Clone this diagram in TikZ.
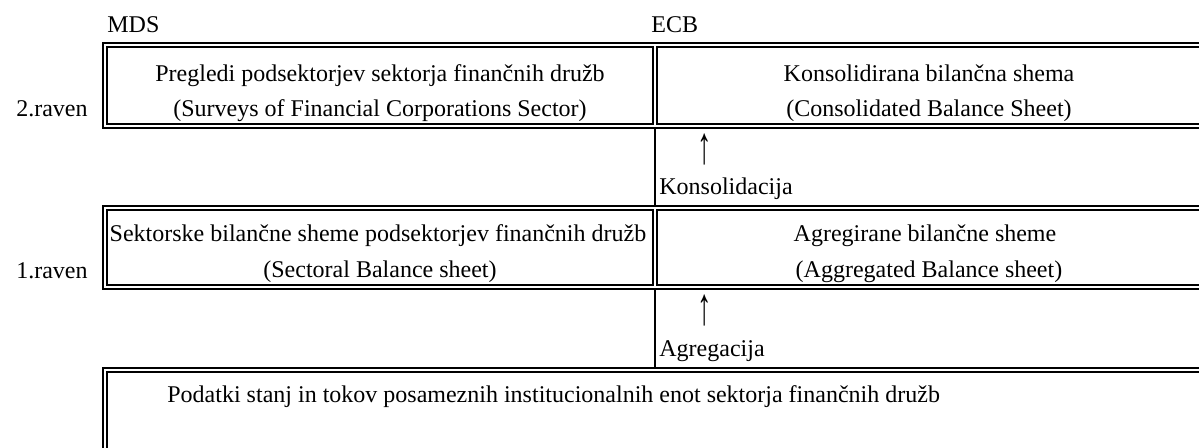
\documentclass[tikz,border=0pt]{standalone}
\usepackage{graphicx}
\usepackage{fontspec}
\setmainfont{Liberation Serif}
\usetikzlibrary{positioning}
\tikzset{frame/.style={line width=0.9pt},
  rule/.style={line width=0.8pt},
  txt/.style={inner sep=0pt, anchor=base, font=\fontsize{12}{14}\selectfont}}
\newcommand{\uparr}{\scalebox{1.2}[2.2]{↑}}

\begin{document}
\begin{tikzpicture}[x=0.5pt,y=-0.5pt]
      \clip (0,0) rectangle (1199,448);
      \draw[frame] (103,43) rectangle (1230,128);
      \draw[frame] (107,47) rectangle (653,124);
      \draw[frame] (657,47) rectangle (1226,124);
      \draw[frame] (103,206) rectangle (1230,289);
      \draw[frame] (107,210) rectangle (653,285);
      \draw[frame] (657,210) rectangle (1226,285);
      \draw[frame] (103,368) rectangle (1230,470);
      \draw[frame] (107,372) rectangle (1226,466);
      \coordinate (top1) at (655,128);
      \coordinate (bot1) at (655,206);
      \coordinate (top2) at (655,289);
      \coordinate (bot2) at (655,368);
      \draw[rule] (top1) -- (bot1);
      \draw[rule] (top2) -- (bot2);
      \node[txt, anchor=base west] (mds) at (107,33) {MDS};
      \node[txt, anchor=base west] (ecb) at (651,33) {ECB};
      \node[txt, anchor=base east] (lvl2) at (88,117) {2.raven};
      \node[txt, anchor=base east] (lvl1) at (88,279) {1.raven};
      \node[txt] (pregl) at (380,82) {Pregledi podsektorjev sektorja finančnih družb};
      \node[txt] (survey) at (380,117) {(Surveys of Financial Corporations Sector)};
      \node[txt] (konsbs) at (929,82) {Konsolidirana bilančna shema};
      \node[txt] (consbs) at (929,117) {(Consolidated Balance Sheet)};
      \node[txt] (upa) at (705,164) {\uparr};
      \node[txt, anchor=base west] (kons) at (659,195) {Konsolidacija};
      \node[txt] (sekt) at (378,242) {Sektorske bilančne sheme podsektorjev finančnih družb};
      \node[txt] (sectbs) at (380,278) {(Sectoral Balance sheet)};
      \node[txt] (agrbs) at (925,242) {Agregirane bilančne sheme};
      \node[txt] (aggbs) at (929,278) {(Aggregated Balance sheet)};
      \node[txt] (upb) at (705,325) {\uparr};
      \node[txt, anchor=base west] (agr) at (659,357) {Agregacija};
      \node[txt, anchor=base west] (data) at (167,403) {Podatki stanj in tokov posameznih institucionalnih enot sektorja finančnih družb};
\end{tikzpicture}
\end{document}
